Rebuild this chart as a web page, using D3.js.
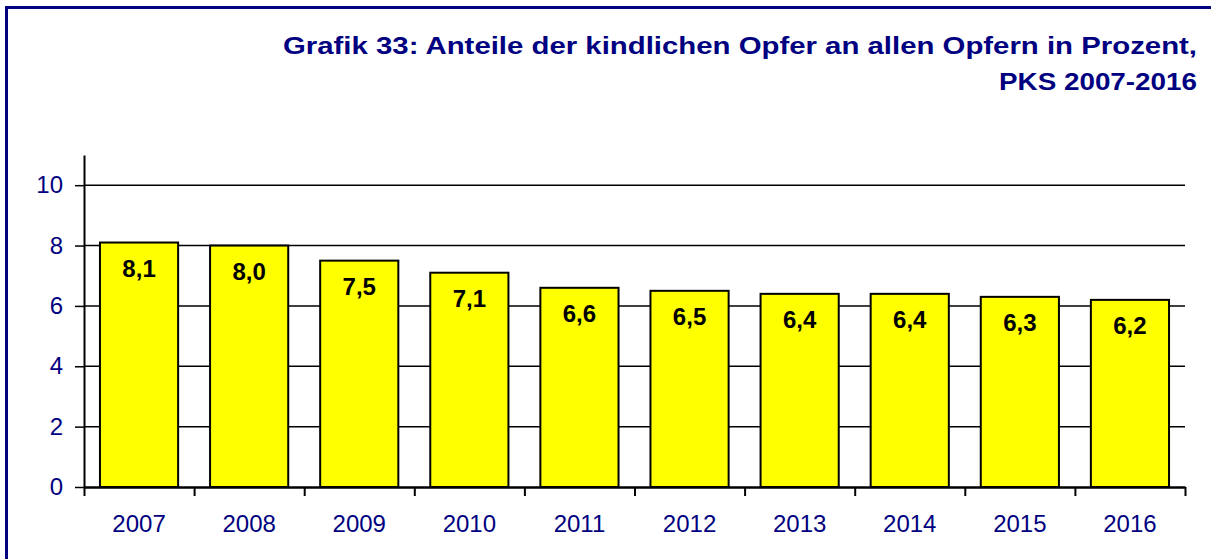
<!DOCTYPE html>
<html>
<head>
<meta charset="utf-8">
<script src="https://cdn.jsdelivr.net/npm/d3@7"></script>
<style>
  body { margin: 0; background: #fff; }
  svg { display: block; font-family: "Liberation Sans", Arial, sans-serif; }
</style>
</head>
<body>
<div id="chart"></div>
<script>
const years = ["2007","2008","2009","2010","2011","2012","2013","2014","2015","2016"];
const shares = [8.1, 8.0, 7.5, 7.1, 6.6, 6.5, 6.4, 6.4, 6.3, 6.2];
const yTicks = [0, 2, 4, 6, 8, 10];
const titleLines = ["Grafik 33: Anteile der kindlichen Opfer an allen Opfern in Prozent,", "PKS 2007-2016"];

const W = 1211, H = 559;
const navy = "#000080";
const plotLeft = 84, plotRight = 1185, plotTop = 155, plotBottom = 487;

const svg = d3.select("#chart").append("svg")
    .attr("width", W)
    .attr("height", H);

// frame
svg.append("rect")
    .attr("x", 6.5).attr("y", 7.5)
    .attr("width", W + 20).attr("height", H + 20)
    .attr("fill", "none")
    .attr("stroke", navy)
    .attr("stroke-width", 3);

// title
svg.selectAll("text.title")
    .data(titleLines)
    .join("text")
    .attr("class", "title")
    .attr("x", 1197)
    .attr("y", (d, i) => 54 + i * 36)
    .attr("text-anchor", "end")
    .attr("fill", navy)
    .attr("font-size", 24.5)
    .attr("font-weight", "bold")
    .attr("textLength", (d, i) => i == 0 ? 914 : 198)
    .attr("lengthAdjust", "spacingAndGlyphs")
    .text(d => d);

var x = d3.scaleBand()
    .domain(years)
    .range([plotLeft, plotRight])
    .paddingInner(0.29)
    .paddingOuter(0.145);

var y = d3.scaleLinear()
    .domain([0, 11])
    .range([plotBottom, plotTop]);

// gridlines
svg.append("g")
    .selectAll("line")
    .data(yTicks.filter(d => d > 0))
    .join("line")
    .attr("x1", plotLeft).attr("x2", plotRight)
    .attr("y1", d => y(d)).attr("y2", d => y(d))
    .attr("stroke", "#000")
    .attr("stroke-width", 1.5);

// bars
svg.append("g")
    .selectAll("rect")
    .data(shares)
    .join("rect")
    .attr("x", (d, i) => x(years[i]))
    .attr("y", d => y(d))
    .attr("width", x.bandwidth())
    .attr("height", d => y(0) - y(d))
    .attr("fill", "#ffff00")
    .attr("stroke", "#000")
    .attr("stroke-width", 2);

// value labels
svg.append("g")
    .selectAll("text")
    .data(shares)
    .join("text")
    .attr("x", (d, i) => x(years[i]) + x.bandwidth() / 2)
    .attr("y", d => y(d) + 34)
    .attr("text-anchor", "middle")
    .attr("font-size", 24)
    .attr("font-weight", "bold")
    .attr("fill", "#000")
    .text(d => d.toFixed(1).replace(".", ","));

// y axis
var yAxis = svg.append("g")
    .attr("transform", "translate(" + plotLeft + ",0)")
    .call(d3.axisLeft(y).tickValues(yTicks).tickSize(9).tickSizeOuter(0).tickPadding(12));
yAxis.select(".domain").attr("stroke-width", 2);
yAxis.selectAll(".tick line").attr("stroke-width", 1.5);
yAxis.selectAll("text")
    .attr("font-size", 24)
    .attr("font-family", "Liberation Sans, Arial, sans-serif")
    .attr("fill", navy);

// x axis: boundary ticks
var xi = d3.scaleLinear().domain([0, years.length]).range([plotLeft, plotRight]);
var xAxis = svg.append("g")
    .attr("transform", "translate(0," + plotBottom + ")")
    .call(d3.axisBottom(xi).tickValues(d3.range(years.length + 1)).tickSize(9).tickSizeOuter(0).tickFormat(""));
xAxis.select(".domain").attr("stroke-width", 2.5);
xAxis.selectAll(".tick line").attr("stroke-width", 2);

// x labels
svg.append("g")
    .attr("transform", "translate(0," + plotBottom + ")")
    .call(d3.axisBottom(x).tickSize(0).tickPadding(28))
    .call(g => g.select(".domain").remove())
    .selectAll("text")
    .attr("font-size", 24)
    .attr("font-family", "Liberation Sans, Arial, sans-serif")
    .attr("fill", navy);
</script>
</body>
</html>
